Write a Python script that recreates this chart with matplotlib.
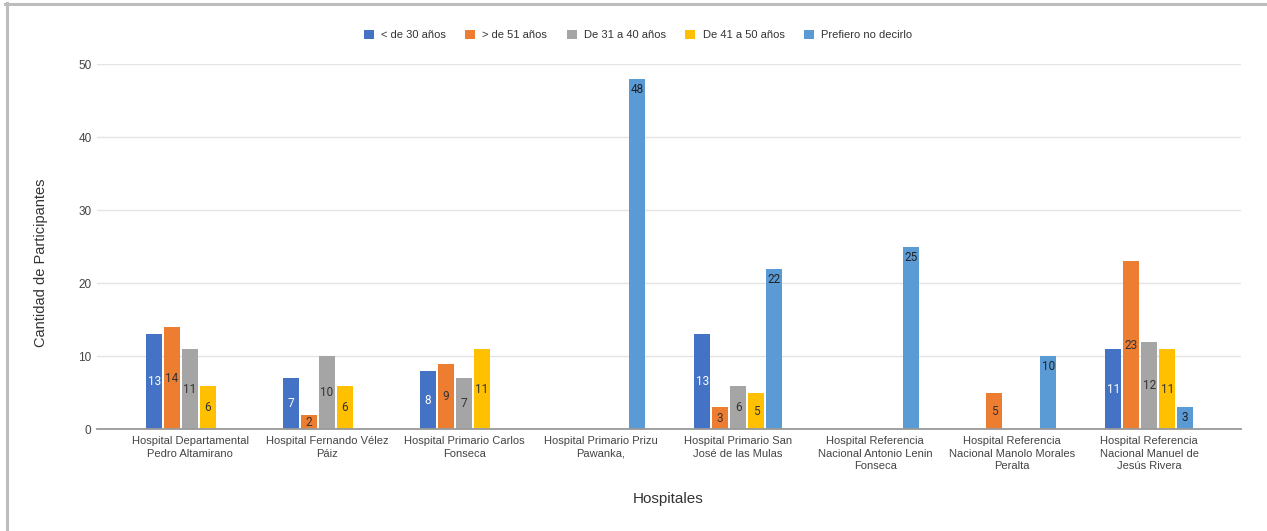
import numpy as np
import matplotlib
matplotlib.use("Agg")
import matplotlib.pyplot as plt
from matplotlib.lines import Line2D
from matplotlib.patches import Patch

plt.rcParams['font.family'] = ['Liberation Sans', 'DejaVu Sans']

# ---- data ----
hospitals = [
    "Hospital Departamental\nPedro Altamirano",
    "Hospital Fernando Vélez\nPáiz",
    "Hospital Primario Carlos\nFonseca",
    "Hospital Primario Prizu\nPawanka,",
    "Hospital Primario San\nJosé de las Mulas",
    "Hospital Referencia\nNacional Antonio Lenin\nFonseca",
    "Hospital Referencia\nNacional Manolo Morales\nPeralta",
    "Hospital Referencia\nNacional Manuel de\nJesús Rivera",
]
series_names = ["< de 30 años", "> de 51 años", "De 31 a 40 años",
                "De 41 a 50 años", "Prefiero no decirlo"]
menos_30 = [13, 7, 8, 0, 13, 0, 0, 11]
mas_51 = [14, 2, 9, 0, 3, 0, 5, 23]
de_31_40 = [11, 10, 7, 0, 6, 0, 0, 12]
de_41_50 = [6, 6, 11, 0, 5, 0, 0, 11]
prefiero = [0, 0, 0, 48, 22, 25, 10, 3]
series_values = [menos_30, mas_51, de_31_40, de_41_50, prefiero]

colors = ["#4472C4", "#ED7D31", "#A5A5A5", "#FFC000", "#5B9BD5"]
label_colors = ["white", "#333333", "#333333", "#333333", "#222222"]

# ---- figure ----
W, H = 1267, 531
fig = plt.figure(figsize=(W / 100, H / 100), dpi=100)
ax = fig.add_axes([97 / W, 1 - 429.3 / H, (1241 - 97) / W, (429.3 - 64.3) / H])

x = np.arange(len(hospitals))
slot = 0.131
bar_w = 0.117
for i, (name, vals) in enumerate(zip(series_names, series_values)):
    offs = (i - 2) * slot
    vals = np.array(vals)
    mask = vals > 0
    ax.bar(x[mask] + offs, vals[mask], width=bar_w, color=colors[i],
           linewidth=0, zorder=3)
    # value labels: "Prefiero" near the top, the rest centred in the bar
    for xi, v in zip(x[mask], vals[mask]):
        if i == 4:
            ax.annotate(str(v), (xi + offs, v), xytext=(0, -7.5),
                        textcoords="offset points", ha="center", va="center",
                        fontsize=8.5, family="Roboto", color=label_colors[i], zorder=4)
        else:
            ax.text(xi + offs, v / 2, str(v), ha="center", va="center",
                    fontsize=8.5, family="Roboto", color=label_colors[i], zorder=4)

ax.set_xlim(-0.679, 7.67)
ax.set_ylim(0, 50)
ax.set_yticks([0, 10, 20, 30, 40, 50])
ax.set_xticks(x)
ax.set_xticklabels(hospitals, fontsize=8, color="#444444", linespacing=1.3)
ax.tick_params(axis="both", length=0)
ax.tick_params(axis="y", pad=4, labelsize=8.5, labelcolor="#444444")
ax.tick_params(axis="x", pad=5)

ax.grid(axis="y", color="#e4e4e4", linewidth=1, zorder=0)
for s in ["top", "right", "left"]:
    ax.spines[s].set_visible(False)
ax.spines["bottom"].set_color("#999999")
ax.spines["bottom"].set_linewidth(1.3)
ax.spines["bottom"].set_zorder(5)

ax.set_ylabel("Cantidad de Participantes", fontsize=10.5, color="#333333")
ax.yaxis.set_label_coords(-0.0428, 0.456)
ax.set_xlabel("Hospitales", fontsize=11, color="#333333")
ax.xaxis.set_label_coords(0.499, -0.172)

handles = [Patch(facecolor=c, edgecolor="none") for c in colors]
fig.legend(handles, series_names, loc="center", bbox_to_anchor=(638 / W, 1 - 35 / H),
           ncol=5, frameon=False, fontsize=8, handlelength=0.9, handleheight=0.9,
           handletextpad=0.65, columnspacing=1.75, labelcolor="#333333")

# border on top and left edges
fig.add_artist(Line2D([5 / W, 1], [1 - 3.5 / H, 1 - 3.5 / H], color="#bdbdbd",
                      linewidth=2.2, transform=fig.transFigure))
fig.add_artist(Line2D([6.5 / W, 6.5 / W], [0, 1 - 2.5 / H], color="#bdbdbd",
                      linewidth=2.2, transform=fig.transFigure))

fig.savefig("out.png", dpi=100, facecolor="white")
